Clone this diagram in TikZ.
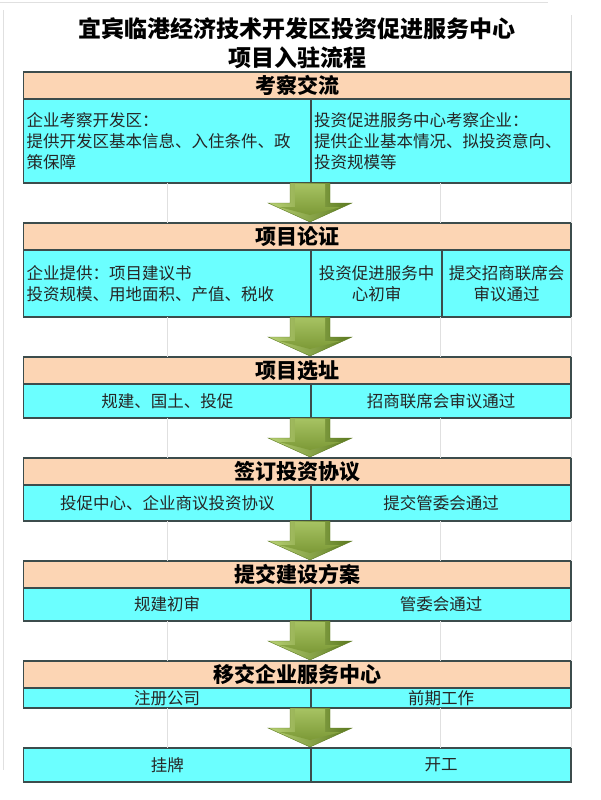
\documentclass[tikz,border=0pt]{standalone}
\usepackage{fontspec}
\setmainfont{Noto Sans CJK SC}
\usetikzlibrary{positioning,calc}

\definecolor{peach}{HTML}{FCD5B4}
\definecolor{aqua}{HTML}{6BFFFF}
\definecolor{rule}{HTML}{3C4C4C}
\definecolor{olivelight}{HTML}{B8D174}
\definecolor{olivedark}{HTML}{5C7A20}
\definecolor{olivetop}{HTML}{A6C262}
\definecolor{olivebot}{HTML}{7C9936}

\begin{document}
\begin{tikzpicture}[
	x=1pt, y=1pt,
	title/.style = {align=center, inner sep=0pt,
		font=\fontsize{23}{29}\selectfont\bfseries},
	head/.style = {rectangle, draw=rule, line width=1.2pt, fill=peach,
		minimum width=547.5pt, minimum height=27pt, inner sep=0pt, outer sep=0pt,
		font=\fontsize{21}{25}\selectfont\bfseries},
	cell/.style = {rectangle, draw=rule, line width=1.2pt, fill=aqua,
		inner xsep=3pt, inner ysep=0pt, outer sep=0pt, align=center, text=black!85,
		font=\fontsize{16.5}{21}\selectfont},
	halfl/.style = {cell, text width=281.5pt},
	halfr/.style = {cell, text width=254pt},
	grid/.style = {draw=black!12, line width=0.8pt},
	bevelout/.style = {left color=olivelight, right color=olivedark,
		draw=olivedark, line width=0.4pt},
	bevelin/.style = {top color=olivetop, bottom color=olivebot},
	]
	\useasboundingbox (0,0) rectangle (600,-800);
	\draw[grid] (0,-2) -- (548,-2);
	\draw[grid] (3,-10) -- (3,-770);
	\draw[grid] (571,-15) -- (571,-72);

	\node[title] (T) at (297,-43) {宜宾临港经济技术开发区投资促进服务中心\\项目入驻流程};

	% 考察交流
	\node[head, anchor=north west] (h1) at (23.5,-72) {考察交流};
	\node[halfl, align=left, minimum height=84pt, below right=0pt and 0pt of h1.south west] (c1l)
		{企业考察开发区：\\提供开发区基本信息、入住条件、政\\策保障};
	\node[halfr, align=left, minimum height=84pt, right=0pt of c1l] (c1r)
		{投资促进服务中心考察企业：\\提供企业基本情况、拟投资意向、\\投资规模等};

	% 项目论证
	\node[head, below right=40pt and 0pt of c1l.south west] (h2) {项目论证};
	\node[halfl, align=left, minimum height=67pt, below right=0pt and 0pt of h2.south west] (c2l)
		{企业提供：项目建议书\\投资规模、用地面积、产值、税收};
	\node[cell, text width=125pt, minimum height=67pt, right=0pt of c2l] (c2m)
		{投资促进服务中\\心初审};
	\node[cell, text width=123pt, minimum height=67pt, right=0pt of c2m] (c2r)
		{提交招商联席会\\审议通过};

	% 项目选址
	\node[head, below right=40pt and 0pt of c2l.south west] (h3) {项目选址};
	\node[halfl, minimum height=34pt, below right=0pt and 0pt of h3.south west] (c3l) {规建、国土、投促};
	\node[halfr, minimum height=34pt, right=0pt of c3l] (c3r) {招商联席会审议通过};

	% 签订投资协议
	\node[head, below right=40pt and 0pt of c3l.south west] (h4) {签订投资协议};
	\node[halfl, minimum height=36pt, below right=0pt and 0pt of h4.south west] (c4l) {投促中心、企业商议投资协议};
	\node[halfr, minimum height=36pt, right=0pt of c4l] (c4r) {提交管委会通过};

	% 提交建设方案
	\node[head, below right=40pt and 0pt of c4l.south west] (h5) {提交建设方案};
	\node[halfl, minimum height=33pt, below right=0pt and 0pt of h5.south west] (c5l) {规建初审};
	\node[halfr, minimum height=33pt, right=0pt of c5l] (c5r) {管委会通过};

	% 移交企业服务中心
	\node[head, below right=40pt and 0pt of c5l.south west] (h6) {移交企业服务中心};
	\node[halfl, minimum height=20pt, below right=0pt and 0pt of h6.south west] (c6l) {注册公司};
	\node[halfr, minimum height=20pt, right=0pt of c6l] (c6r) {前期工作};

	\node[halfl, minimum height=34pt, below right=40pt and 0pt of c6l.south west] (c7l) {挂牌};
	\node[halfr, minimum height=34pt, right=0pt of c7l] (c7r) {开工};

	% green block arrows between the steps
	\foreach \a/\b in {c1l/h2, c2l/h3, c3l/h4, c4l/h5, c5l/h6, c6l/c7l}{
		\draw[grid] ($(\a.south west)+(143.5,0)$) -- ($(\a.south west |- \b.north)+(143.5,0)$);
		\draw[grid] ($(\a.south west)+(416.5,0)$) -- ($(\a.south west |- \b.north)+(416.5,0)$);
		\draw[grid] ($(\a.south west)+(547.5,0)$) -- ($(\a.south west |- \b.north)+(547.5,0)$);
		\shade[bevelout] let \p1=($(\a.south east)+(-1,0)$), \p2=(\p1 |- \b.north),
			\p3=($(\p1)!.5!(\p2)$) in
			(\x1-20pt,\y1) -- (\x1-20pt,\y3) -- (\x1-42pt,\y3) -- (\x1,\y2+1pt)
			-- (\x1+42pt,\y3) -- (\x1+20pt,\y3) -- (\x1+20pt,\y1) -- cycle;
		\shade[bevelin] let \p1=($(\a.south east)+(-1,0)$), \p2=(\p1 |- \b.north),
			\p3=($(\p1)!.5!(\p2)$) in
			(\x1-15pt,\y1-1pt) -- (\x1-15pt,\y3-4pt) -- (\x1-31pt,\y3-4pt) -- (\x1,\y2+8pt)
			-- (\x1+31pt,\y3-4pt) -- (\x1+15pt,\y3-4pt) -- (\x1+15pt,\y1-1pt) -- cycle;
	}
\end{tikzpicture}
\end{document}
